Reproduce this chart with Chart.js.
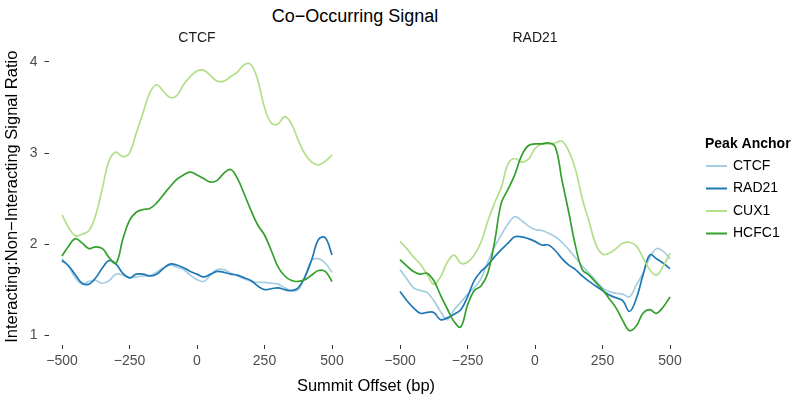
<!DOCTYPE html>
<html><head><meta charset="utf-8">
<script src="https://cdn.jsdelivr.net/npm/chart.js@4.4.0/dist/chart.umd.min.js"></script>
<style>
html,body{margin:0;padding:0;background:#fff;}
#wrap{position:relative;width:800px;height:406px;overflow:hidden;background:#fff;font-family:"Liberation Sans",Arial,Helvetica,sans-serif;}
canvas{position:absolute;top:0;}
#cA{left:0;width:350px;height:406px;}
#cB{left:352px;width:448px;height:406px;}
.t{position:absolute;left:0;text-align:center;white-space:nowrap;color:#000;}
#title{top:6.8px;width:710px;font-size:18px;line-height:18px;}
#xtitle{top:376.8px;width:732px;font-size:16.5px;line-height:16.5px;}
</style></head><body>
<div id="wrap">
<div class="t" id="title">Co−Occurring Signal</div>
<canvas id="cA" width="350" height="406"></canvas>
<canvas id="cB" width="448" height="406"></canvas>
<div class="t" id="xtitle">Summit Offset (bp)</div>
</div>
<script>
// ---- data ----
const offsets = [-500,-475,-450,-425,-400,-375,-350,-325,-300,-275,-250,-225,-200,-175,-150,-125,-100,-75,-50,-25,0,25,50,75,100,125,150,175,200,225,250,275,300,325,350,375,400,425,450,475,500];
const panels = ["CTCF", "RAD21"];
const anchors = ["CTCF", "RAD21", "CUX1", "HCFC1"];
const xTicks = [-500, -250, 0, 250, 500];
const yTicks = [1, 2, 3, 4];

// panel CTCF
const ctcfPanel_CTCF  = [1.84,1.75,1.63,1.56,1.59,1.60,1.57,1.60,1.67,1.66,1.63,1.64,1.65,1.65,1.69,1.74,1.77,1.75,1.72,1.66,1.61,1.59,1.66,1.72,1.72,1.68,1.65,1.62,1.59,1.58,1.58,1.57,1.56,1.52,1.49,1.50,1.65,1.82,1.84,1.79,1.69];
const ctcfPanel_RAD21 = [1.82,1.76,1.66,1.57,1.56,1.63,1.74,1.82,1.78,1.68,1.63,1.67,1.67,1.65,1.67,1.73,1.78,1.77,1.74,1.70,1.67,1.64,1.67,1.70,1.69,1.67,1.66,1.63,1.60,1.54,1.50,1.51,1.52,1.50,1.49,1.52,1.64,1.83,2.05,2.07,1.88];
const ctcfPanel_CUX1  = [2.32,2.18,2.09,2.11,2.15,2.32,2.62,2.92,3.01,2.96,3.00,3.22,3.44,3.66,3.75,3.68,3.61,3.63,3.75,3.84,3.90,3.91,3.85,3.79,3.79,3.84,3.89,3.97,3.97,3.80,3.50,3.33,3.32,3.40,3.32,3.14,2.99,2.90,2.87,2.91,2.98];
const ctcfPanel_HCFC1 = [1.87,1.98,2.06,2.01,1.95,1.97,1.95,1.85,1.79,2.05,2.26,2.35,2.38,2.39,2.45,2.54,2.63,2.71,2.76,2.79,2.76,2.72,2.68,2.70,2.78,2.82,2.72,2.55,2.37,2.21,2.10,1.93,1.75,1.65,1.60,1.59,1.61,1.66,1.71,1.70,1.59];

// panel RAD21
const rad21Panel_CTCF  = [1.72,1.62,1.52,1.49,1.47,1.38,1.26,1.17,1.28,1.36,1.45,1.52,1.62,1.80,1.97,2.10,2.22,2.30,2.26,2.20,2.16,2.15,2.12,2.08,2.02,1.94,1.85,1.76,1.68,1.60,1.52,1.48,1.46,1.45,1.42,1.55,1.68,1.85,1.95,1.92,1.84];
const rad21Panel_RAD21 = [1.48,1.38,1.30,1.24,1.25,1.25,1.17,1.19,1.23,1.28,1.42,1.60,1.70,1.77,1.86,1.94,2.01,2.08,2.08,2.06,2.03,1.99,1.99,1.93,1.84,1.77,1.72,1.65,1.59,1.54,1.49,1.44,1.41,1.38,1.26,1.40,1.66,1.88,1.84,1.79,1.73];
const rad21Panel_CUX1  = [2.03,1.95,1.86,1.78,1.67,1.56,1.64,1.80,1.88,1.79,1.80,1.88,2.02,2.25,2.45,2.62,2.88,2.94,2.90,2.93,3.05,3.10,3.10,3.11,3.13,3.02,2.82,2.50,2.25,2.00,1.89,1.90,1.95,2.01,2.02,1.98,1.85,1.72,1.66,1.76,1.90];
const rad21Panel_HCFC1 = [1.83,1.76,1.70,1.67,1.68,1.60,1.44,1.29,1.15,1.09,1.33,1.49,1.54,1.68,2.02,2.45,2.60,2.76,2.97,3.08,3.10,3.10,3.11,3.07,2.70,2.35,1.98,1.72,1.66,1.58,1.50,1.40,1.30,1.16,1.05,1.10,1.24,1.28,1.24,1.31,1.42];

const colors = ["#A6CEE3", "#1F78B4", "#B2DF8A", "#33A02C"];
const yTitle = "Interacting:Non−Interacting Signal Ratio";
const legendTitle = "Peak Anchor";

// ---- chart ----
const FONT = '"Liberation Sans", Arial, Helvetica, sans-serif';
Chart.defaults.font.family = FONT;

function fmt(v) { return v < 0 ? "\u2212" + Math.abs(v) : String(v); }

function datasets(series) {
  return anchors.map((name, i) => ({
    label: name,
    data: offsets.map((x, j) => ({ x: x, y: series[i][j] })),
    borderColor: colors[i],
    backgroundColor: colors[i],
    borderWidth: 1.7,
    pointRadius: 0,
    pointHoverRadius: 0,
    tension: 0.4,
    fill: false,
    order: anchors.length - 1 - i
  }));
}

const legendPlugin = {
  id: 'facetLegend',
  afterDraw(chart, args, opts) {
    if (!opts.show) return;
    const ctx = chart.ctx;
    const ox = opts.originX;
    ctx.save();
    ctx.textBaseline = 'middle';
    ctx.textAlign = 'left';
    ctx.fillStyle = '#000';
    ctx.font = 'bold 14px ' + FONT;
    ctx.fillText(legendTitle, 705 - ox, 144);
    ctx.font = '14px ' + FONT;
    chart.data.datasets.forEach((ds, i) => {
      const y = 166 + i * 22.5;
      ctx.strokeStyle = ds.borderColor;
      ctx.lineWidth = 2;
      ctx.beginPath();
      ctx.moveTo(706 - ox, y);
      ctx.lineTo(727 - ox, y);
      ctx.stroke();
      ctx.fillStyle = '#000';
      ctx.fillText(ds.label, 733 - ox, y);
    });
    ctx.restore();
  }
};

function makeChart(id, panel, series, showY, padL, padR, legend, originX) {
  return new Chart(document.getElementById(id), {
    type: 'line',
    data: { datasets: datasets(series) },
    plugins: [legendPlugin],
    options: {
      responsive: false,
      animation: false,
      devicePixelRatio: 1,
      events: [],
      layout: { padding: { top: 21.7, left: padL, right: padR, bottom: 0 } },
      plugins: {
        legend: { display: false },
        tooltip: { enabled: false },
        title: {
          display: true, text: panel, fullSize: false,
          font: { size: 14, weight: 'normal', family: FONT }, color: '#1A1A1A',
          padding: { top: 8, bottom: 2 }
        },
        facetLegend: { show: legend, originX: originX }
      },
      scales: {
        x: {
          type: 'linear', min: -550, max: 550,
          afterBuildTicks: s => { s.ticks = xTicks.map(v => ({ value: v })); },
          afterFit: s => { s.height = 61; },
          grid: { drawOnChartArea: false, drawTicks: true, tickLength: 4, color: '#333333', lineWidth: 1 },
          border: { display: false },
          ticks: { padding: 4, font: { size: 14 }, color: '#4D4D4D', maxRotation: 0, autoSkip: false, callback: v => fmt(v) }
        },
        y: {
          type: 'linear', min: 0.892, max: 4.148, display: showY,
          afterBuildTicks: s => { s.ticks = yTicks.map(v => ({ value: v })); },
          afterFit: s => { s.width = showY ? 48.5 : 0; },
          grid: { drawOnChartArea: false, drawTicks: true, tickLength: 4, color: '#333333', lineWidth: 1 },
          border: { display: false },
          ticks: { padding: 7, font: { size: 14 }, color: '#4D4D4D', callback: v => String(v) },
          title: { display: true, text: yTitle, font: { size: 16.5 }, color: '#000', padding: { top: 3, bottom: 0 } }
        }
      }
    }
  });
}

makeChart('cA', panels[0], [ctcfPanel_CTCF, ctcfPanel_RAD21, ctcfPanel_CUX1, ctcfPanel_HCFC1], true, 0, 4.5, false, 0);
makeChart('cB', panels[1], [rad21Panel_CTCF, rad21Panel_RAD21, rad21Panel_CUX1, rad21Panel_HCFC1], false, 34.5, 116.5, true, 352);
</script>
</body></html>
